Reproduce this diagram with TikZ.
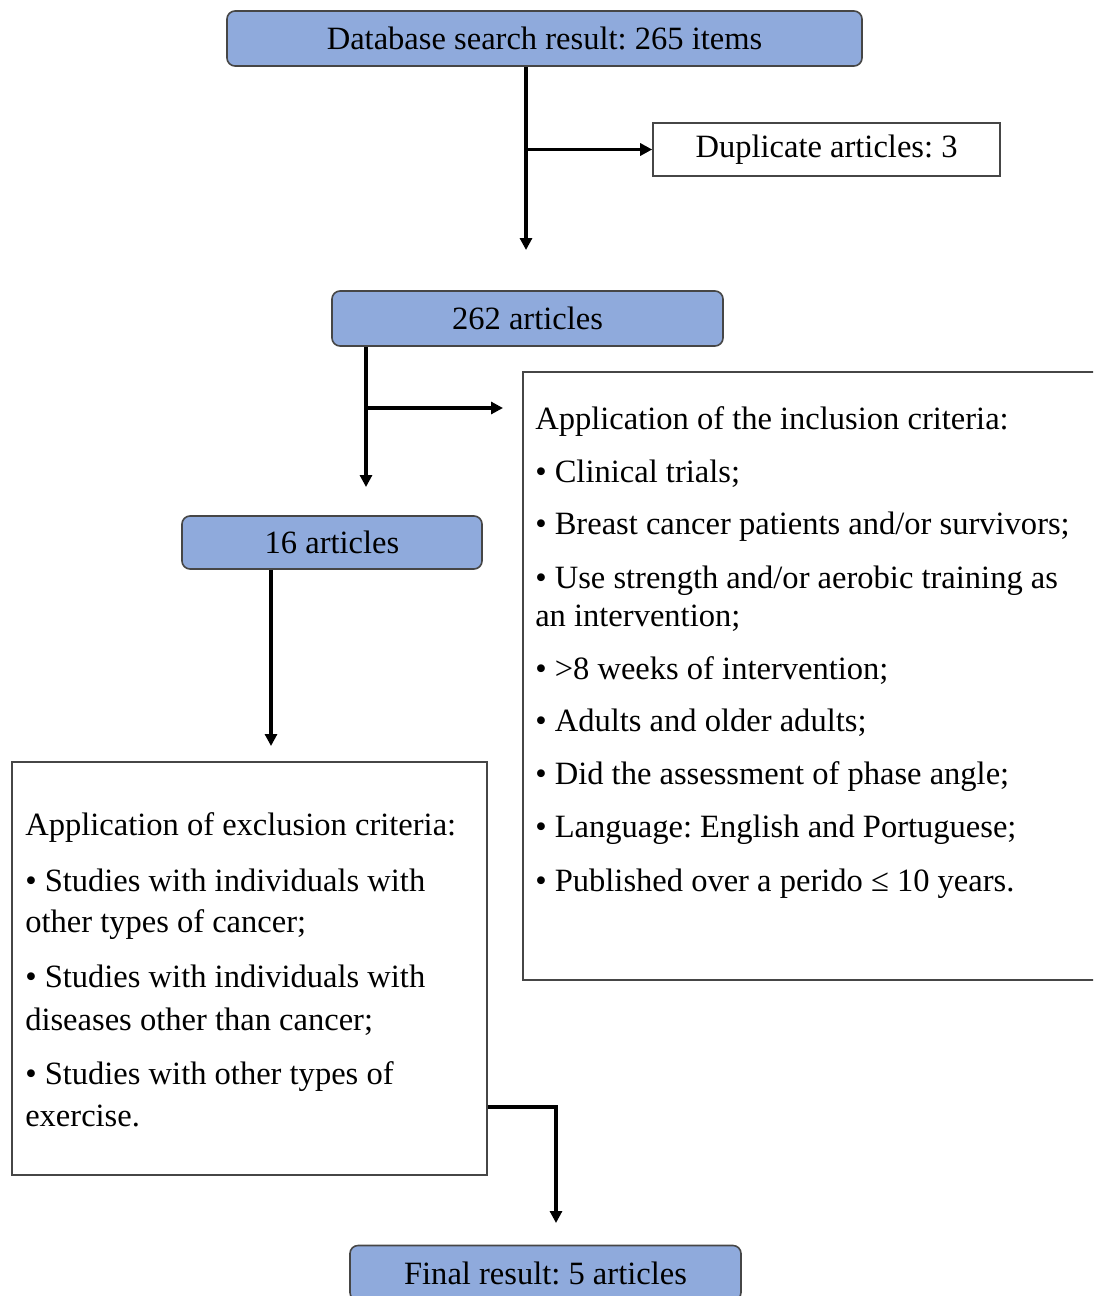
\documentclass[tikz,border=0pt]{standalone}
\usepackage{fontspec}
\setmainfont{Liberation Serif}
\usepackage{xcolor}
\usepackage{tikz}
\usetikzlibrary{calc,arrows.meta}
\definecolor{caixazul}{RGB}{143,170,220}
\definecolor{bordacinza}{RGB}{70,70,70}
\frenchspacing

\begin{document}
\begin{tikzpicture}[x=0.75pt, y=-0.75pt, >={Triangle[length=9pt,width=9pt]},
    font=\fontsize{24.4}{28}\selectfont,
    azul/.style={draw=bordacinza, fill=caixazul, line width=1.2pt, rounded corners=6pt,
        inner sep=0pt},
    branco/.style={draw=bordacinza, fill=white, line width=1.2pt, inner sep=0pt},
    linha/.style={anchor=base west, inner sep=0pt},
    seta/.style={->, line width=2.8pt}]
    \clip (0,0) rectangle (1093,1296);
    % caixas
    \node[azul, minimum width=476.25pt, minimum height=41.25pt] (db) at (544.5,38.5)
        {Database search result: 265 items};
    \node[branco, minimum width=260.25pt, minimum height=39.75pt] (dup) at (826.5,149.5)
        {Duplicate articles: 3};
    \node[azul, minimum width=293.25pt, minimum height=41.25pt] (a262) at (527.5,318.5)
        {262 articles};
    \node[branco, minimum width=432.75pt, minimum height=456pt] (incl) at (811.5,676) {};
    \node[azul, minimum width=225pt, minimum height=39.75pt] (a16) at (332,542.5)
        {16 articles};
    \node[branco, minimum width=356.25pt, minimum height=309.75pt] (excl) at (249.5,968.5) {};
    \node[azul, minimum width=293.25pt, minimum height=41.25pt] (final) at (545.5,1273)
        {Final result: 5 articles};
    % criterios de inclusao
    \node[linha] (i0) at (535,429) {Application of the inclusion criteria:};
    \node[linha] (i1) at (535,482) {• Clinical trials;};
    \node[linha] (i2) at (535,534) {• Breast cancer patients and/or survivors;};
    \node[linha] (i3) at (535,588) {• Use strength and/or aerobic training as};
    \node[linha] (i3b) at (535,626) {an intervention;};
    \node[linha] (i4) at (535,679) {• >8 weeks of intervention;};
    \node[linha] (i5) at (535,731) {• Adults and older adults;};
    \node[linha] (i6) at (535,784) {• Did the assessment of phase angle;};
    \node[linha] (i7) at (535,837) {• Language: English and Portuguese;};
    \node[linha] (i8) at (535,891) {• Published over a perido ≤ 10 years.};
    % criterios de exclusao
    \node[linha] (e0) at (25,835) {Application of exclusion criteria:};
    \node[linha] (e1) at (25,891) {• Studies with individuals with};
    \node[linha] (e1b) at (25,932) {other types of cancer;};
    \node[linha] (e2) at (25,987) {• Studies with individuals with};
    \node[linha] (e2b) at (25,1030) {diseases other than cancer;};
    \node[linha] (e3) at (25,1084) {• Studies with other types of};
    \node[linha] (e3b) at (25,1126) {exercise.};
    % setas
    \coordinate (p1) at (526,250);
    \draw[seta] (db.south -| p1) -- (p1);
    \draw[seta] (p1 |- dup.west) -- (dup.west);
    \coordinate (p2) at (366,487);
    \coordinate (q2) at (503,408);
    \draw[seta] (a262.south -| p2) -- (p2);
    \draw[seta] (p2 |- q2) -- (q2);
    \coordinate (p3) at (271,746);
    \draw[seta] (a16.south -| p3) -- (p3);
    \coordinate (k4) at (556,1107);
    \coordinate (p4) at (556,1223);
    \draw[seta] (excl.east |- k4) -- (k4) -- (p4);
\end{tikzpicture}
\end{document}
